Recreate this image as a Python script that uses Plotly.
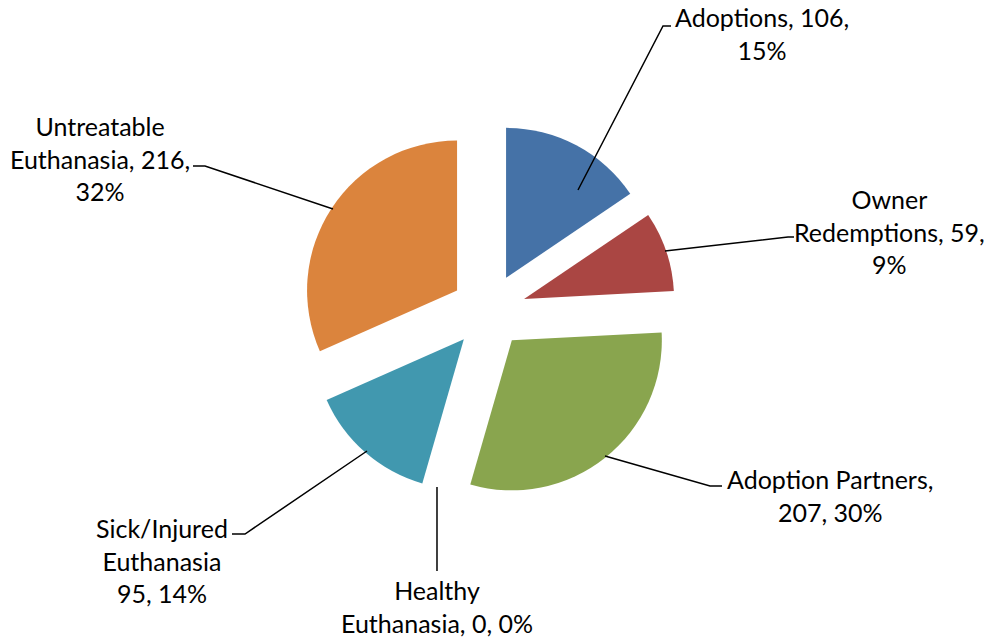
import plotly.graph_objects as go

# ---- data ----
categories = ["Adoptions", "Owner Redemptions", "Adoption Partners",
              "Healthy Euthanasia", "Sick/Injured Euthanasia", "Untreatable Euthanasia"]
values = [106, 59, 207, 0, 95, 216]
percent_labels = ["15%", "9%", "30%", "0%", "14%", "32%"]
label_texts = ["Adoptions, 106,<br>15%",
               "Owner<br>Redemptions, 59,<br>9%",
               "Adoption Partners,<br>207, 30%",
               "Healthy<br>Euthanasia, 0, 0%",
               "Sick/Injured<br>Euthanasia<br>95, 14%",
               "Untreatable<br>Euthanasia, 216,<br>32%"]
colors = ["#4572A7", "#AA4643", "#89A54E", "#71588F", "#4198AF", "#DB843D"]

# ---- layout (pixel geometry of the 992x639 canvas) ----
W, H = 992, 639
label_pos = [(762, 34), (889, 231), (830, 495), (437, 606), (162, 560), (100, 158)]
leaders = [
    [(578, 190), (663, 26), (671, 26)],
    [(665, 251), (788, 237), (794, 237)],
    [(605, 456), (710, 486), (722, 486)],
    [(437, 487), (437, 571)],
    [(367, 451), (245, 534), (232, 534)],
    [(333, 209), (205, 166), (193, 166)],
]

def px(x, y):
    return x / W, 1 - y / H

dx0, dy1 = px(301, 123.5)
dx1, dy0 = px(676, 498.5)

fig = go.Figure(go.Pie(
    labels=categories,
    values=values,
    sort=False,
    direction="clockwise",
    rotation=0,
    pull=[0.25] * len(values),
    marker=dict(colors=colors, line=dict(width=0)),
    textinfo="none",
    domain=dict(x=[dx0, dx1], y=[dy0, dy1]),
    showlegend=False,
))

shapes = []
for pts in leaders:
    path = ""
    for i, (x, y) in enumerate(pts):
        fx, fy = px(x, y)
        path += ("M" if i == 0 else " L") + f" {fx:.5f} {fy:.5f}"
    shapes.append(dict(type="path", path=path, xref="paper", yref="paper",
                       line=dict(color="black", width=1.5)))

annotations = []
for (x, y), t in zip(label_pos, label_texts):
    fx, fy = px(x, y)
    annotations.append(dict(x=fx, y=fy, xref="paper", yref="paper", text=t,
                            showarrow=False, xanchor="center", yanchor="middle",
                            align="center", font=dict(family="Lato", size=25, color="black")))

fig.update_layout(
    width=W, height=H,
    margin=dict(l=0, r=0, t=0, b=0),
    paper_bgcolor="white",
    plot_bgcolor="white",
    shapes=shapes,
    annotations=annotations,
)

fig.write_html("out.html", config={"displayModeBar": False},
               post_script="document.body.style.margin='0';")
